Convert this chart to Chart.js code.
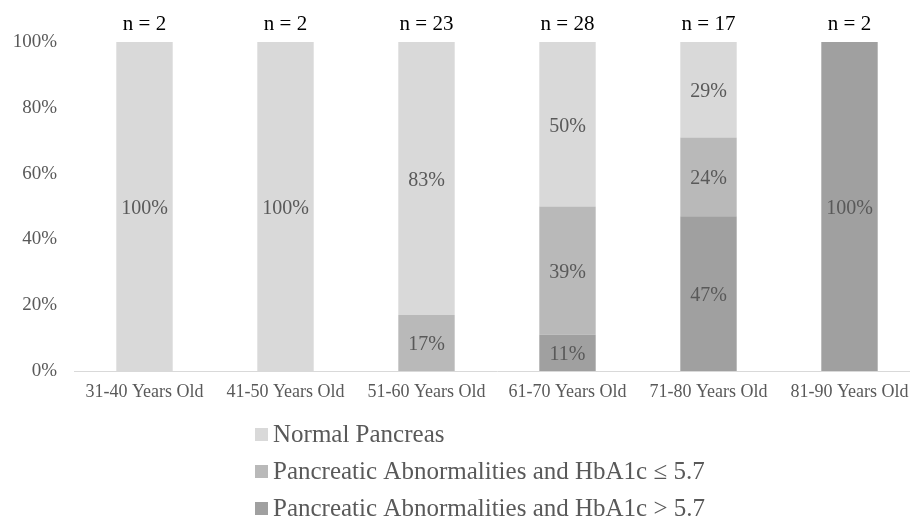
<!DOCTYPE html>
<html>
<head>
<meta charset="utf-8">
<script src="https://cdn.jsdelivr.net/npm/chart.js@4/dist/chart.umd.min.js"></script>
<style>
  html, body { margin: 0; padding: 0; background: #fff; overflow: hidden; }
  #wrap { width: 910px; height: 522px; overflow: hidden; }
</style>
</head>
<body>
<div id="wrap"><canvas id="ageChart" width="922" height="522"></canvas></div>
<script>
// Age groups and the share of each pancreas finding (percent)
const ageGroups = ['31-40 Years Old', '41-50 Years Old', '51-60 Years Old', '61-70 Years Old', '71-80 Years Old', '81-90 Years Old'];
const sampleSizes = [2, 2, 23, 28, 17, 2];
const normalPancreas = [100, 100, 83, 50, 29, 0];
const abnormalLowA1c = [0, 0, 17, 39, 24, 0];
const abnormalHighA1c = [0, 0, 0, 11, 47, 100];
const seriesNames = ['Normal Pancreas', 'Pancreatic Abnormalities and HbA1c \u2264 5.7', 'Pancreatic Abnormalities and HbA1c > 5.7'];
const seriesColors = ['#d9d9d9', '#b9b9b9', '#a0a0a0'];
const yTicks = [0, 20, 40, 60, 80, 100];

const serif = '"Liberation Serif", "Times New Roman", serif';

// n = ... above every bar, % inside each segment, vertical legend underneath
const labelsPlugin = {
    id: 'labels',
    afterDatasetsDraw(chart) {
        const ctx = chart.ctx;
        ctx.save();
        ctx.textAlign = 'center';
        ctx.textBaseline = 'middle';
        ctx.font = '20px ' + serif;
        ctx.fillStyle = '#595959';
        chart.data.datasets.forEach((ds, di) => {
            const meta = chart.getDatasetMeta(di);
            meta.data.forEach((bar, i) => {
                const v = ds.data[i];
                if (!v) return;
                ctx.fillText(v + '%', bar.x, (bar.y + bar.base) / 2 + 2);
            });
        });

        const xs = chart.scales.x;
        ctx.fillStyle = '#000';
        ctx.font = '21px ' + serif;
        sampleSizes.forEach((n, i) => {
            ctx.fillText('n = ' + n, xs.getPixelForValue(i), 24);
        });

        ctx.textAlign = 'left';
        ctx.font = '25px ' + serif;
        seriesNames.forEach((name, i) => {
            const y = 434 + i * 37;
            ctx.fillStyle = seriesColors[i];
            ctx.fillRect(255, y - 6, 13, 13);
            ctx.fillStyle = '#595959';
            ctx.fillText(name, 273, y + 1);
        });
        ctx.restore();
    }
};

const ctx = document.getElementById('ageChart').getContext('2d');
const chart = new Chart(ctx, {
    type: 'bar',
    data: {
        labels: ageGroups,
        datasets: [
            { label: seriesNames[2], data: abnormalHighA1c, backgroundColor: seriesColors[2] },
            { label: seriesNames[1], data: abnormalLowA1c, backgroundColor: seriesColors[1] },
            { label: seriesNames[0], data: normalPancreas, backgroundColor: seriesColors[0] }
        ]
    },
    options: {
        responsive: false,
        animation: false,
        datasets: { bar: { barPercentage: 0.4, categoryPercentage: 1 } },
        layout: { padding: { top: 42, bottom: 111, right: 2, left: 0 } },
        plugins: {
            legend: { display: false },
            tooltip: { enabled: false }
        },
        scales: {
            x: {
                stacked: true,
                grid: { display: false, drawTicks: false },
                border: { display: true, color: '#d9d9d9', width: 1 },
                ticks: { color: '#595959', font: { family: serif, size: 18 }, padding: 10, maxRotation: 0 },
                afterFit: (s) => { s.height = 40; }
            },
            y: {
                stacked: true,
                min: 0,
                max: 100,
                afterBuildTicks: (s) => { s.ticks = yTicks.map(v => ({ value: v })); },
                grid: { display: false, drawTicks: false },
                border: { display: false },
                ticks: { color: '#595959', font: { family: serif, size: 19 }, padding: 17, callback: (v) => v + '%' },
                afterFit: (s) => { s.width = 74; }
            }
        }
    },
    plugins: [labelsPlugin]
});
</script>
</body>
</html>
